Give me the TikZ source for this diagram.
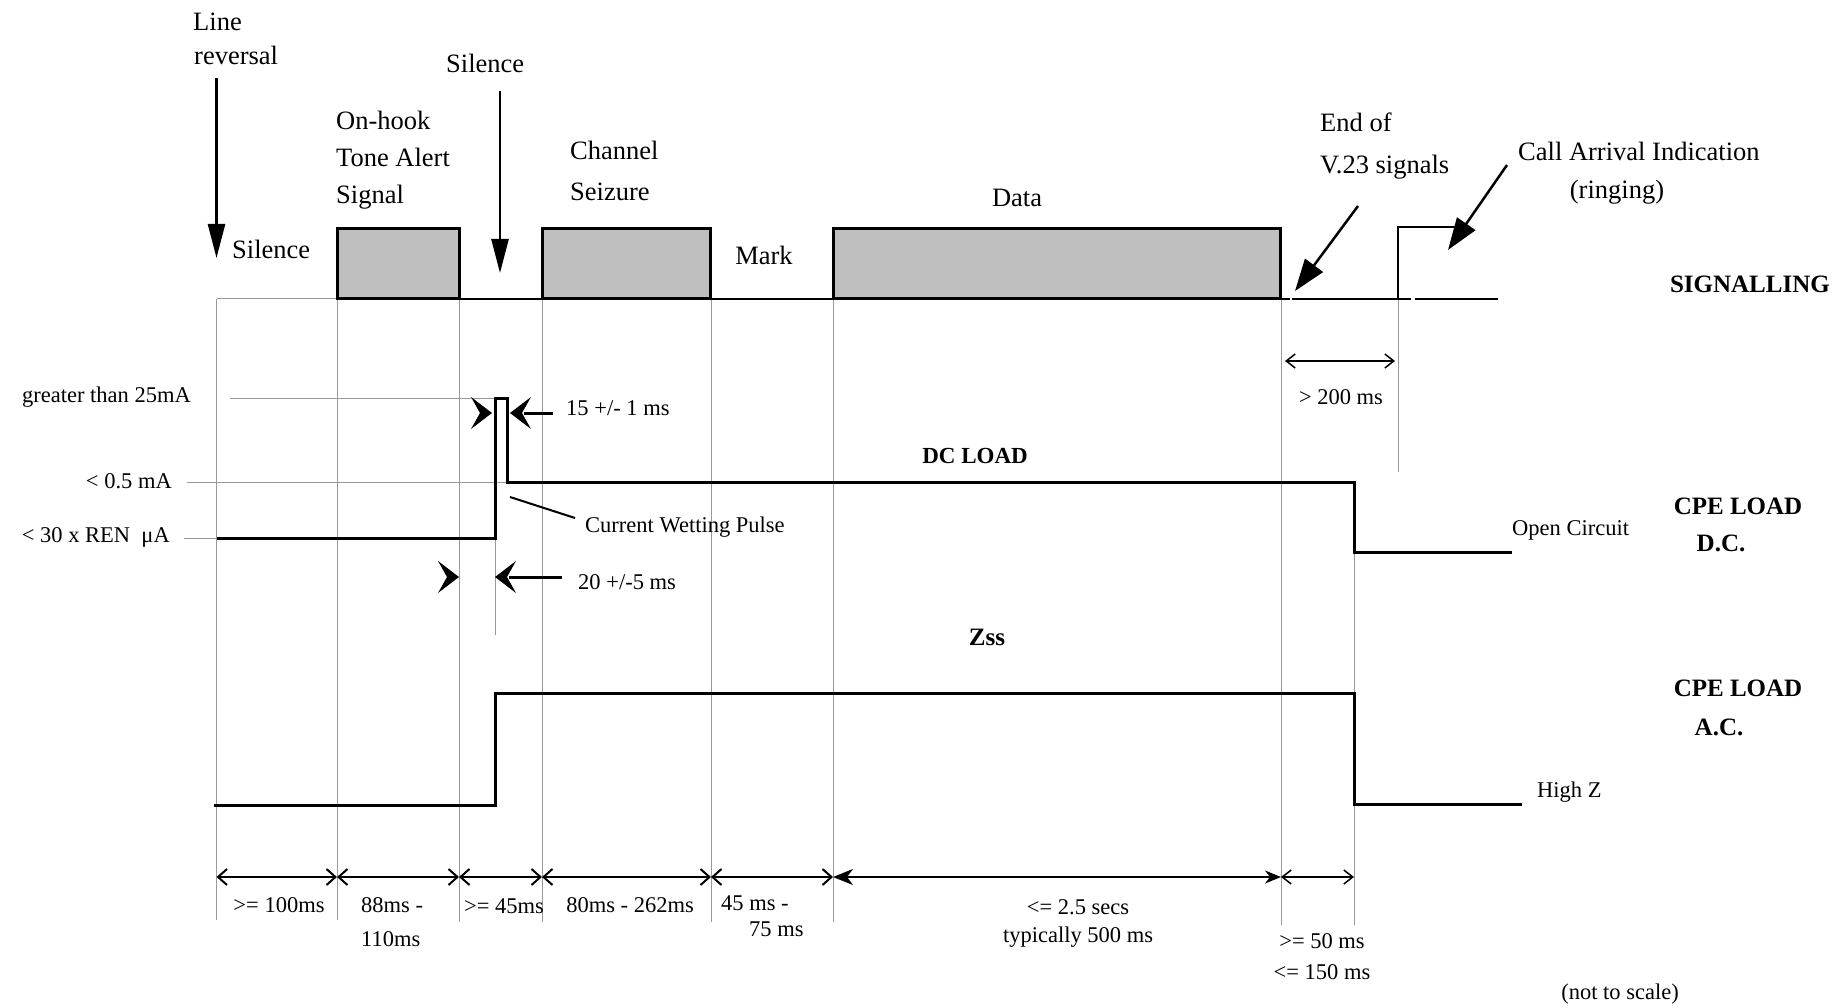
\documentclass[tikz,border=0pt]{standalone}
\usepackage{fontspec}
\setmainfont{Liberation Serif}
\usetikzlibrary{arrows.meta}
\tikzset{
  pics/chevR/.style={code={\fill (0,0) -- (-21,-16) -- (-12,0) -- (-21,16) -- cycle;}},
  pics/chevL/.style={code={\fill (0,0) -- (21,-16) -- (12,0) -- (21,16) -- cycle;}},
}
\begin{document}
\begin{tikzpicture}[x=1pt,y=-1pt,
  gridline/.style={black!40, line width=0.9pt},
  wave/.style={black, line width=3pt},
  base/.style={black, line width=2pt},
  sigbox/.style={draw=black, fill=black!25, line width=3pt},
  lbl/.style={font=\fontsize{26.5}{37}\selectfont, inner sep=0pt, align=left},
  sml/.style={font=\fontsize{22.5}{30}\selectfont, inner sep=0pt, align=center},
  bld/.style={font=\fontsize{25}{37}\selectfont\bfseries, inner sep=0pt, align=center},
  downarrow/.style={line width=2.5pt, -{Triangle[length=34pt,width=17pt]}},
  callarrow/.style={line width=2.5pt, -{Triangle[length=32pt,width=22pt]}},
  dimarrow/.style={line width=2pt, {Straight Barb[length=9pt,width=16pt]}-{Straight Barb[length=9pt,width=16pt]}},
  thindim/.style={line width=1.5pt, {Straight Barb[length=9pt,width=14pt]}-{Straight Barb[length=9pt,width=14pt]}},
  bigdim/.style={line width=1.5pt, {Stealth[length=20pt,width=16pt,inset=6pt]}-{Stealth[length=16pt,width=13pt,inset=5pt]}},
  leader/.style={line width=2pt},
]
\useasboundingbox (0,0) rectangle (1835,1008);

% ---------------- grid lines ----------------
\foreach \gx/\gb [count=\i] in {216.5/920,337/920,459/922,542/922,711/922,833/922,1281/925}{
  \coordinate (gt\i) at (\gx,298.5);
  \coordinate (gb\i) at (\gx,\gb);
  \draw[gridline] (gt\i) -- (gb\i);
}
\coordinate (g8t) at (1354,482); \coordinate (g8b) at (1354,925);
\draw[gridline] (g8t) -- (g8b);
\coordinate (g9t) at (1398,298.5); \coordinate (g9b) at (1398,472);
\draw[gridline] (g9t) -- (g9b);

% level reference lines
\coordinate (r25a) at (230,398);   \coordinate (r25b) at (495,398);
\coordinate (r05a) at (187,482);   \coordinate (r05b) at (507,482);
\coordinate (r30a) at (184,538);   \coordinate (r30b) at (216.5,538);
\draw[gridline] (r25a) -- (r25b);
\draw[gridline] (r05a) -- (r05b);
\draw[gridline] (r30a) -- (r30b);
\coordinate (pulseLowA) at (495,538); \coordinate (pulseLowB) at (495,635);
\draw[gridline] (pulseLowA) -- (pulseLowB);

% ---------------- signalling line ----------------
\coordinate (s0) at (216.5,298.5);
\coordinate (s1) at (337,298.5);
\coordinate (s2) at (1290,298.5);
\coordinate (s3) at (1292,298.5);
\coordinate (s4) at (1411,298.5);
\coordinate (s5) at (1415,298.5);
\coordinate (s6) at (1498,298.5);
\coordinate (ringBot) at (1398,298.5);
\coordinate (ringTop) at (1398,227);
\coordinate (ringEnd) at (1457,227);
\draw[gridline] (s0) -- (s1);
\draw[base] (s1) -- (s2);
\draw[base] (s3) -- (s4);
\draw[base] (s5) -- (s6);
\draw[base] (ringBot) -- (ringTop) -- (ringEnd);

% boxes
\coordinate (b1a) at (337,229);  \coordinate (b1b) at (459,298.5);
\coordinate (b2a) at (542,229);  \coordinate (b2b) at (710,298.5);
\coordinate (b3a) at (833,229);  \coordinate (b3b) at (1280,298.5);
\draw[sigbox] (b1a) rectangle (b1b);
\draw[sigbox] (b2a) rectangle (b2b);
\draw[sigbox] (b3a) rectangle (b3b);

% ---------------- top labels ----------------
\node[lbl, anchor=west] (line) at (193,22) {Line};
\node[lbl, anchor=west] (rev) at (194,55) {reversal};
\node[lbl, anchor=west] (sil1) at (232,249) {Silence};
\node[lbl, anchor=west] (sil2) at (446,63) {Silence};
\node[lbl, anchor=west] (tone) at (336,160) {On-hook\\Tone Alert\\Signal};
\node[lbl, anchor=west, font=\fontsize{26.5}{41}\selectfont] (chan) at (570,170.5) {Channel\\Seizure};
\node[lbl] (mark) at (764,255) {Mark};
\node[lbl] (data) at (1017,198) {Data};
\node[lbl, anchor=west, font=\fontsize{26.5}{42}\selectfont] (endv) at (1320,146) {End of\\V.23 signals};
\node[lbl, anchor=west] (call) at (1518,151) {Call Arrival Indication};
\node[lbl] (ring) at (1617,192) {(ringing)};
\node[bld, anchor=east] (sigt) at (1830,284) {SIGNALLING};

% arrows at top
\coordinate (lrA) at (216.5,78);  \coordinate (lrB) at (216.5,258);
\draw[downarrow] (lrA) -- (lrB);
\coordinate (siA) at (500,91);    \coordinate (siB) at (500,273);
\draw[downarrow] (siA) -- (siB);
\coordinate (evA) at (1358,206);  \coordinate (evB) at (1295,291);
\draw[callarrow] (evA) -- (evB);
\coordinate (caA) at (1507,165);  \coordinate (caB) at (1448,250);
\draw[callarrow] (caA) -- (caB);

% > 200 ms
\coordinate (d200a) at (1285,361); \coordinate (d200b) at (1395,361);
\draw[thindim] (d200a) -- (d200b);
\node[sml] (t200) at (1341,397) {> 200 ms};

% ---------------- DC load ----------------
\node[sml, anchor=east, font=\fontsize{22.5}{26}\selectfont] (l25) at (191,397) {greater than 25mA};
\node[sml, anchor=east] (l05) at (172,481) {< 0.5 mA};
\node[sml, anchor=east] (l30) at (170,537) {< 30 x REN\ \ μA};

\coordinate (dc0) at (216.5,538);
\coordinate (dc1) at (495,538);
\coordinate (dc2) at (495,398);
\coordinate (dc3) at (507,398);
\coordinate (dc4) at (507,482);
\coordinate (dc5) at (1354,482);
\coordinate (dc6) at (1354,552);
\coordinate (dc7) at (1512,552);
\draw[wave] (dc0) -- (dc1) -- (dc2) -- (dc3) -- (dc4) -- (dc5) -- (dc6) -- (dc7);

\node[bld, font=\fontsize{23}{28}\selectfont\bfseries] (dcl) at (975,456) {DC LOAD};
\node[sml, anchor=west] (oc) at (1512,530) {Open Circuit};
\node[bld] (cpedc) at (1738,506) {CPE LOAD};
\node[bld] (cpedc2) at (1721,543) {D.C.};

% 15 ms chevrons
\coordinate (c15r) at (492,413);
\coordinate (c15l) at (510,413);
\coordinate (c15t) at (553,413);
\pic at (c15r) {chevR};
\pic at (c15l) {chevL};
\draw[line width=3pt] (c15t) -- ([xshift=14pt]c15l);
\node[sml, anchor=west] (t15) at (566,408) {15 +/- 1 ms};

% current wetting pulse
\coordinate (cwA) at (510,497); \coordinate (cwB) at (575,518);
\draw[leader] (cwA) -- (cwB);
\node[sml, anchor=west] (cwp) at (585,527) {Current Wetting Pulse};

% 20 ms chevrons
\coordinate (c20r) at (459,577);
\coordinate (c20l) at (495,577);
\coordinate (c20t) at (562,577);
\pic at (c20r) {chevR};
\pic at (c20l) {chevL};
\draw[line width=3pt] (c20t) -- ([xshift=14pt]c20l);
\node[sml, anchor=west] (t20) at (578,582) {20 +/-5 ms};

% ---------------- AC load ----------------
\node[bld] (zss) at (987,637) {Zss};
\coordinate (ac0) at (214,805);
\coordinate (ac1) at (495,805);
\coordinate (ac2) at (495,693);
\coordinate (ac3) at (1354,693);
\coordinate (ac4) at (1354,804);
\coordinate (ac5) at (1522,804);
\draw[wave] (ac0) -- (ac1) -- (ac2) -- (ac3) -- (ac4) -- (ac5);
\node[sml, anchor=west] (hz) at (1537,792) {High Z};
\node[bld] (cpeac) at (1738,688) {CPE LOAD};
\node[bld] (cpeac2) at (1719,727) {A.C.};

% ---------------- bottom dimensions ----------------
\foreach \xa/\xb [count=\j] in {216.5/337,337/459,459/542,542/711,711/833}{
  \coordinate (da\j) at (\xa,877);
  \coordinate (db\j) at (\xb,877);
  \draw[dimarrow] (da\j) -- (db\j);
}
\coordinate (da6) at (833,877); \coordinate (db6) at (1281,877);
\draw[bigdim] (da6) -- (db6);
\coordinate (da7) at (1281,877); \coordinate (db7) at (1354,877);
\draw[thindim] (da7) -- (db7);

\node[sml] (t100) at (279,905) {>= 100ms};
\node[sml, align=left, anchor=north west, font=\fontsize{22.5}{34}\selectfont] (t88) at (361,897) {88ms -\\110ms};
\node[sml] (t45) at (504,906) {>= 45ms};
\node[sml] (t80) at (630,905) {80ms - 262ms};
\node[sml, anchor=west] (t45b) at (721,903) {45 ms -};
\node[sml, anchor=west] (t75) at (749,929) {75 ms};
\node[sml, font=\fontsize{22.5}{28}\selectfont] (t25) at (1078,923) {<= 2.5 secs\\typically 500 ms};
\node[sml, font=\fontsize{22.5}{31}\selectfont] (t50) at (1322,956.5) {>= 50 ms\\<= 150 ms};
\node[sml] (nts) at (1620,994) {(not to scale)};
\end{tikzpicture}
\end{document}
